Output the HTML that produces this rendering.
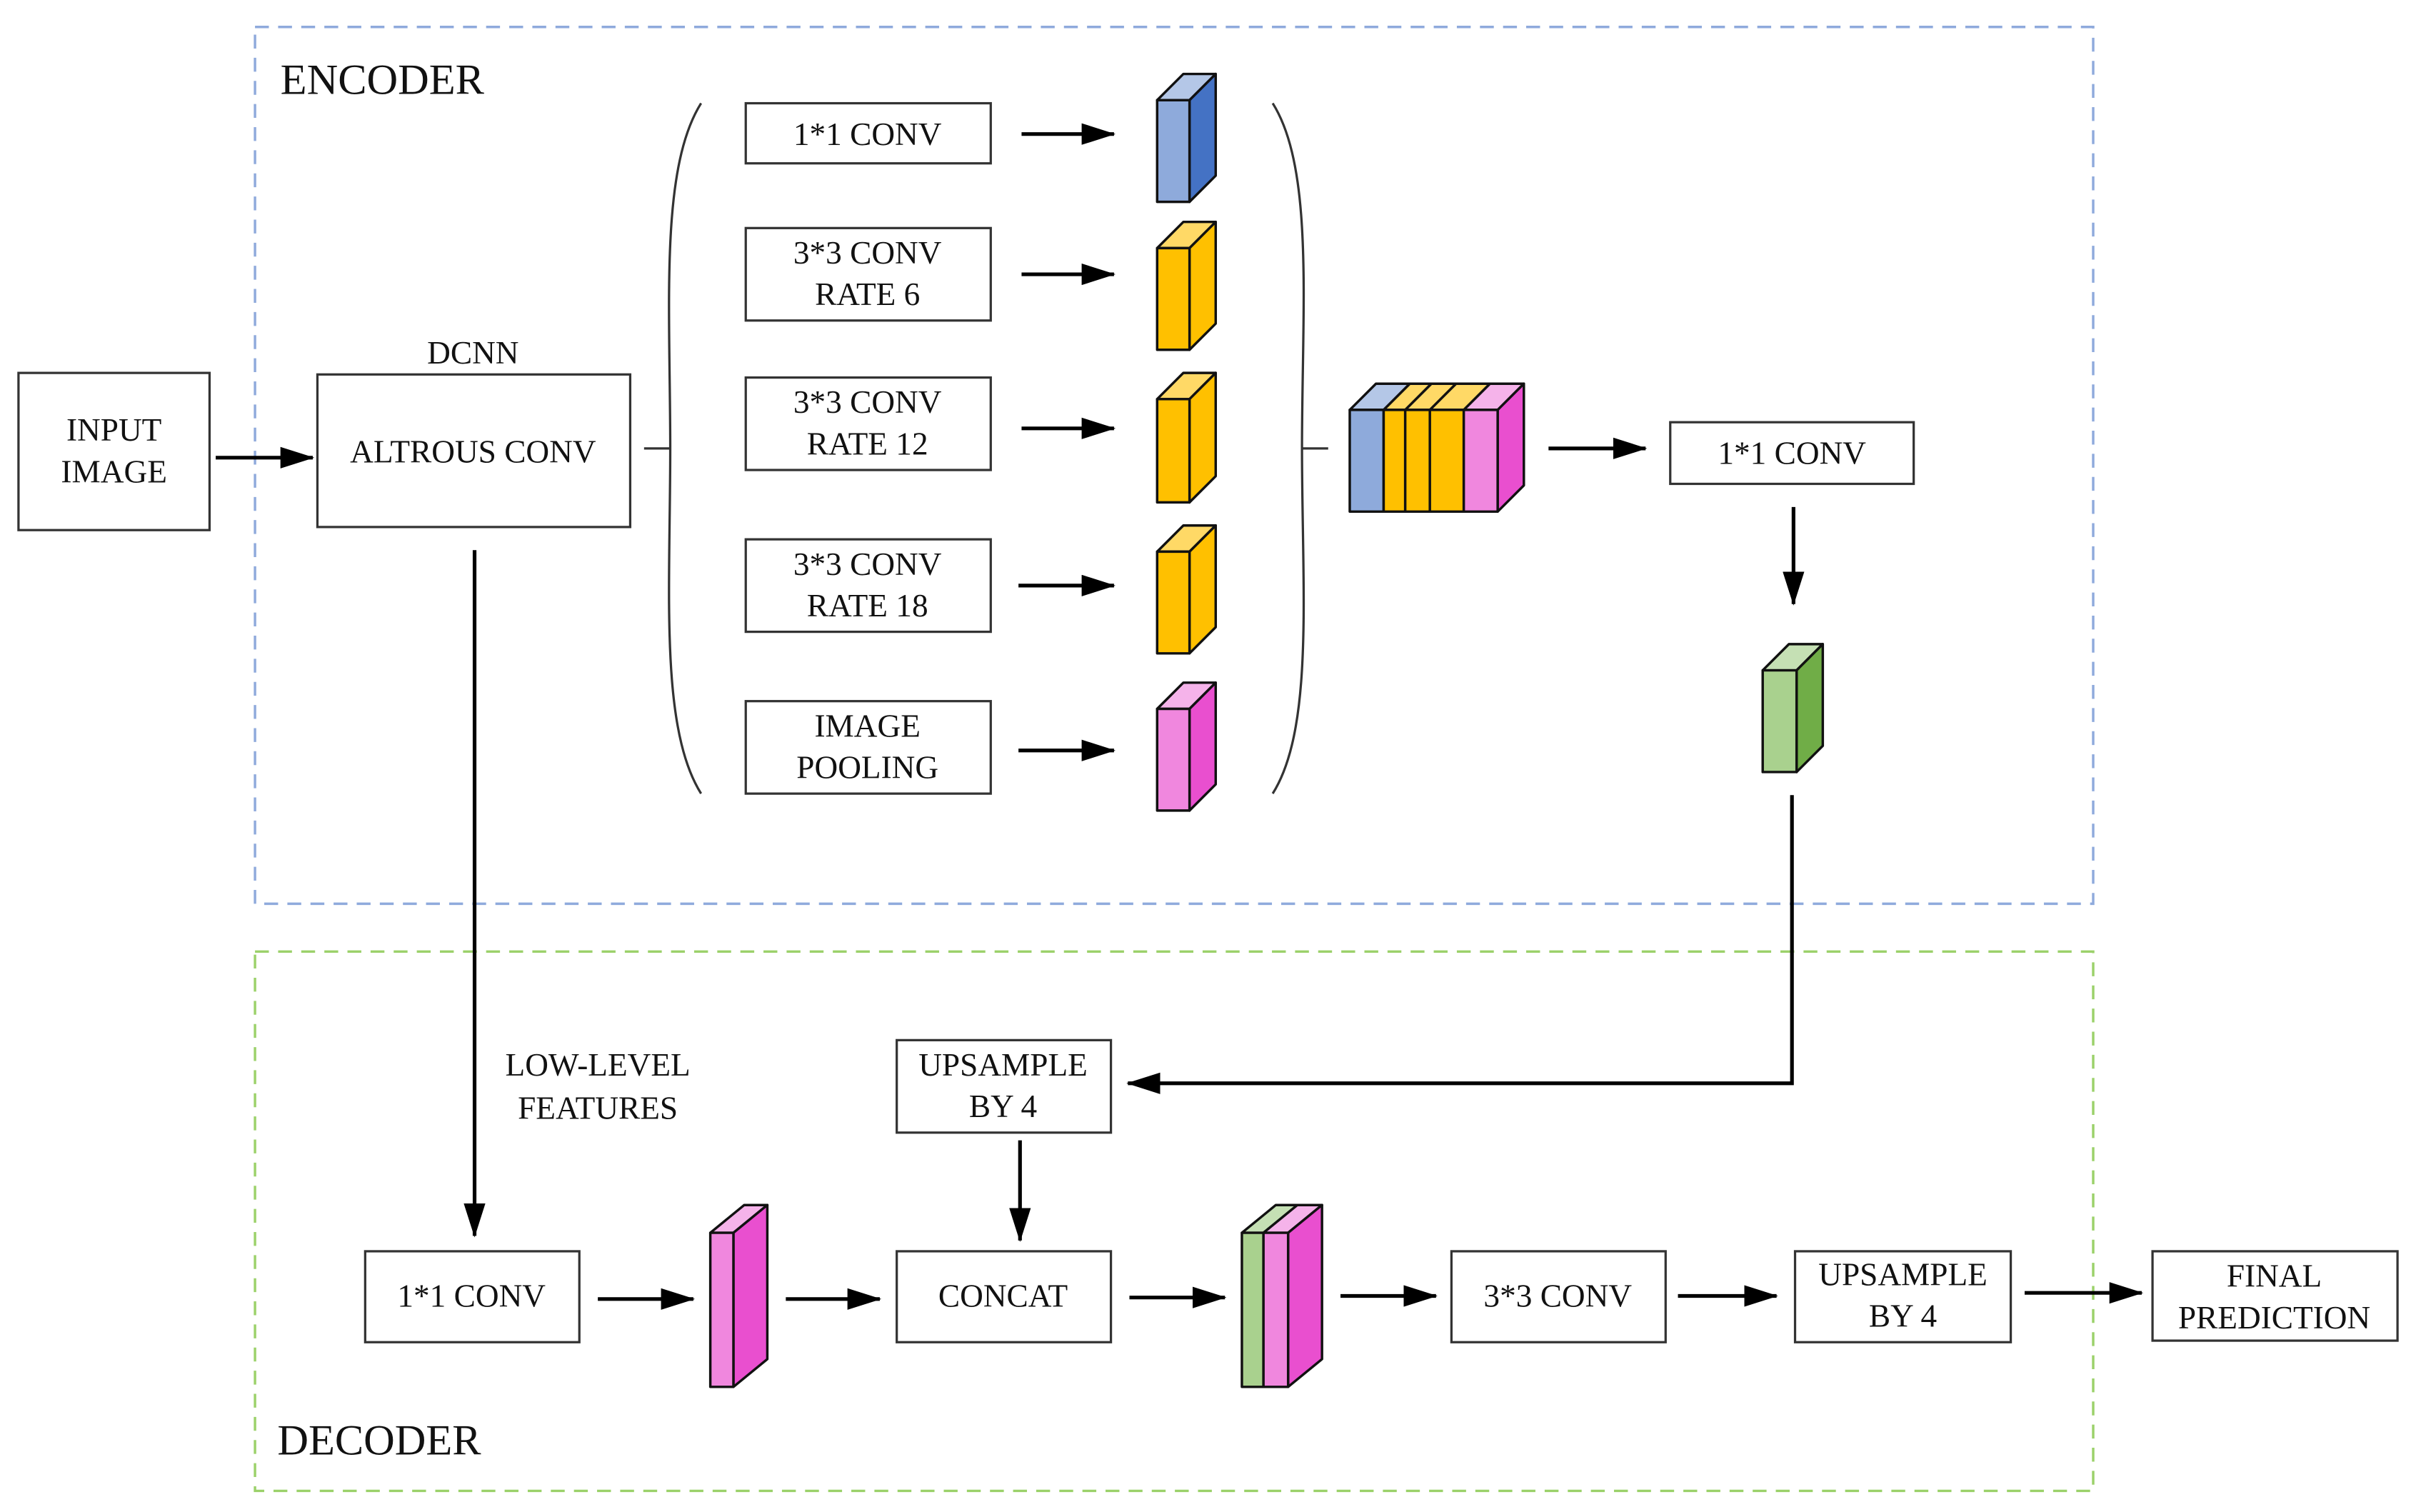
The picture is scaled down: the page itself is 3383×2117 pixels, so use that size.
<!DOCTYPE html>
<html><head><meta charset="utf-8"><style>
html,body{margin:0;padding:0;background:#fff;width:3383px;height:2117px;overflow:hidden}
svg{display:block}
text{font-family:"Liberation Serif",serif;fill:#111}
</style></head><body>
<svg width="3383" height="2117" viewBox="0 0 1568 981.2" preserveAspectRatio="none" xmlns="http://www.w3.org/2000/svg">
<defs>
<marker id="b" markerWidth="22" markerHeight="14" refX="21" refY="7" orient="auto" markerUnits="userSpaceOnUse" viewBox="0 0 22 14">
<path d="M0,0 L22,7 L0,14 z" fill="#000"/></marker>
</defs>
<rect x="165.5" y="17.5" width="1193" height="569" fill="none" stroke="#8faadc" stroke-width="1.6" stroke-dasharray="9,6"/>
<rect x="165.5" y="617.5" width="1193" height="350" fill="none" stroke="#9bd16a" stroke-width="1.6" stroke-dasharray="9,6"/>
<text x="182" y="61" font-size="28">ENCODER</text>
<text x="180" y="944" font-size="28">DECODER</text>

<g fill="#fff" stroke="#333" stroke-width="1.5">
<rect x="12" y="242" width="124" height="102"/>
<rect x="206" y="243" width="203" height="99"/>
<rect x="484" y="67" width="159" height="39"/>
<rect x="484" y="148" width="159" height="60"/>
<rect x="484" y="245" width="159" height="60"/>
<rect x="484" y="350" width="159" height="60"/>
<rect x="484" y="455" width="159" height="60"/>
<rect x="1084" y="274" width="158" height="40"/>
<rect x="582" y="675" width="139" height="60"/>
<rect x="237" y="812" width="139" height="59"/>
<rect x="582" y="812" width="139" height="59"/>
<rect x="942" y="812" width="139" height="59"/>
<rect x="1165" y="812" width="140" height="59"/>
<rect x="1397" y="812" width="159" height="58"/>
</g>

<g font-size="21" text-anchor="middle">
<text x="74" y="286">INPUT</text><text x="74" y="313">IMAGE</text>
<text x="307" y="236">DCNN</text>
<text x="307" y="300">ALTROUS CONV</text>
<text x="563" y="94">1*1 CONV</text>
<text x="563" y="171">3*3 CONV</text><text x="563" y="198">RATE 6</text>
<text x="563" y="268">3*3 CONV</text><text x="563" y="295">RATE 12</text>
<text x="563" y="373">3*3 CONV</text><text x="563" y="400">RATE 18</text>
<text x="563" y="478">IMAGE</text><text x="563" y="505">POOLING</text>
<text x="1163" y="301">1*1 CONV</text>
<text x="651" y="698">UPSAMPLE</text><text x="651" y="725">BY 4</text>
<text x="388" y="698">LOW-LEVEL</text><text x="388" y="726">FEATURES</text>
<text x="306" y="848">1*1 CONV</text>
<text x="651" y="848">CONCAT</text>
<text x="1011" y="848">3*3 CONV</text>
<text x="1235" y="834">UPSAMPLE</text><text x="1235" y="861">BY 4</text>
<text x="1476" y="835">FINAL</text><text x="1476" y="862">PREDICTION</text>
</g>

<g fill="none" stroke="#333" stroke-width="1.5">
<path d="M455,67 C428,110 435,200 435,291 C435,382 428,472 455,515"/>
<path d="M826,67 C853,110 845,200 845,291 C845,382 853,472 826,515"/>
<line x1="418" y1="291" x2="435" y2="291"/>
<line x1="845" y1="291" x2="862" y2="291"/>
</g>

<g stroke="#000" stroke-width="2.4" fill="none" marker-end="url(#b)">
<line x1="140" y1="297" x2="203" y2="297"/>
<line x1="663" y1="87" x2="723" y2="87"/>
<line x1="663" y1="178" x2="723" y2="178"/>
<line x1="663" y1="278" x2="723" y2="278"/>
<line x1="661" y1="380" x2="723" y2="380"/>
<line x1="661" y1="487" x2="723" y2="487"/>
<line x1="1005" y1="291" x2="1068" y2="291"/>
<line x1="1164" y1="329" x2="1164" y2="392"/>
<polyline points="1163,516 1163,703 732,703"/>
<line x1="308" y1="357" x2="308" y2="802"/>
<line x1="662" y1="740" x2="662" y2="805"/>
<line x1="388" y1="843" x2="450" y2="843"/>
<line x1="510" y1="843" x2="571" y2="843"/>
<line x1="733" y1="842" x2="795" y2="842"/>
<line x1="870" y1="841" x2="932" y2="841"/>
<line x1="1089" y1="841" x2="1153" y2="841"/>
<line x1="1314" y1="839" x2="1390" y2="839"/>
</g>

<g stroke="#111" stroke-width="1.6" stroke-linejoin="round">
<polygon points="751,65 768,48 789,48 772,65" fill="#b4c7e7"/>
<polygon points="772,65 789,48 789,114 772,131" fill="#4472c4"/>
<rect x="751" y="65" width="21" height="66" fill="#8eaadb"/>
<polygon points="751,161 768,144 789,144 772,161" fill="#ffd966"/>
<polygon points="772,161 789,144 789,210 772,227" fill="#ffc000"/>
<rect x="751" y="161" width="21" height="66" fill="#ffc000"/>
<polygon points="751,259 768,242 789,242 772,259" fill="#ffd966"/>
<polygon points="772,259 789,242 789,309 772,326" fill="#ffc000"/>
<rect x="751" y="259" width="21" height="67" fill="#ffc000"/>
<polygon points="751,358 768,341 789,341 772,358" fill="#ffd966"/>
<polygon points="772,358 789,341 789,407 772,424" fill="#ffc000"/>
<rect x="751" y="358" width="21" height="66" fill="#ffc000"/>
<polygon points="751,460 768,443 789,443 772,460" fill="#f5b3ea"/>
<polygon points="772,460 789,443 789,509 772,526" fill="#e94fcf"/>
<rect x="751" y="460" width="21" height="66" fill="#f087de"/>
<polygon points="876,266 893,249 915,249 898,266" fill="#b4c7e7"/>
<polygon points="898,266 915,249 929,249 912,266" fill="#ffd966"/>
<polygon points="912,266 929,249 945,249 928,266" fill="#ffd966"/>
<polygon points="928,266 945,249 967,249 950,266" fill="#ffd966"/>
<polygon points="950,266 967,249 989,249 972,266" fill="#f5b3ea"/>
<polygon points="972,266 989,249 989,315 972,332" fill="#e94fcf"/>
<rect x="876" y="266" width="22" height="66" fill="#8eaadb"/>
<rect x="898" y="266" width="14" height="66" fill="#ffc000"/>
<rect x="912" y="266" width="16" height="66" fill="#ffc000"/>
<rect x="928" y="266" width="22" height="66" fill="#ffc000"/>
<rect x="950" y="266" width="22" height="66" fill="#f087de"/>
<polygon points="1144,435 1161,418 1183,418 1166,435" fill="#c5e0b4"/>
<polygon points="1166,435 1183,418 1183,484 1166,501" fill="#70ad47"/>
<rect x="1144" y="435" width="22" height="66" fill="#a9d18e"/>
<polygon points="461,800 483,782 498,782 476,800" fill="#f5b3ea"/>
<polygon points="476,800 498,782 498,882 476,900" fill="#e94fcf"/>
<rect x="461" y="800" width="15" height="100" fill="#f087de"/>
<polygon points="806,800 828,782 842,782 820,800" fill="#c5e0b4"/>
<polygon points="820,800 842,782 858,782 836,800" fill="#f5b3ea"/>
<polygon points="836,800 858,782 858,882 836,900" fill="#e94fcf"/>
<rect x="806" y="800" width="14" height="100" fill="#a9d18e"/>
<rect x="820" y="800" width="16" height="100" fill="#f087de"/>
</g>
</svg>
</body></html>
